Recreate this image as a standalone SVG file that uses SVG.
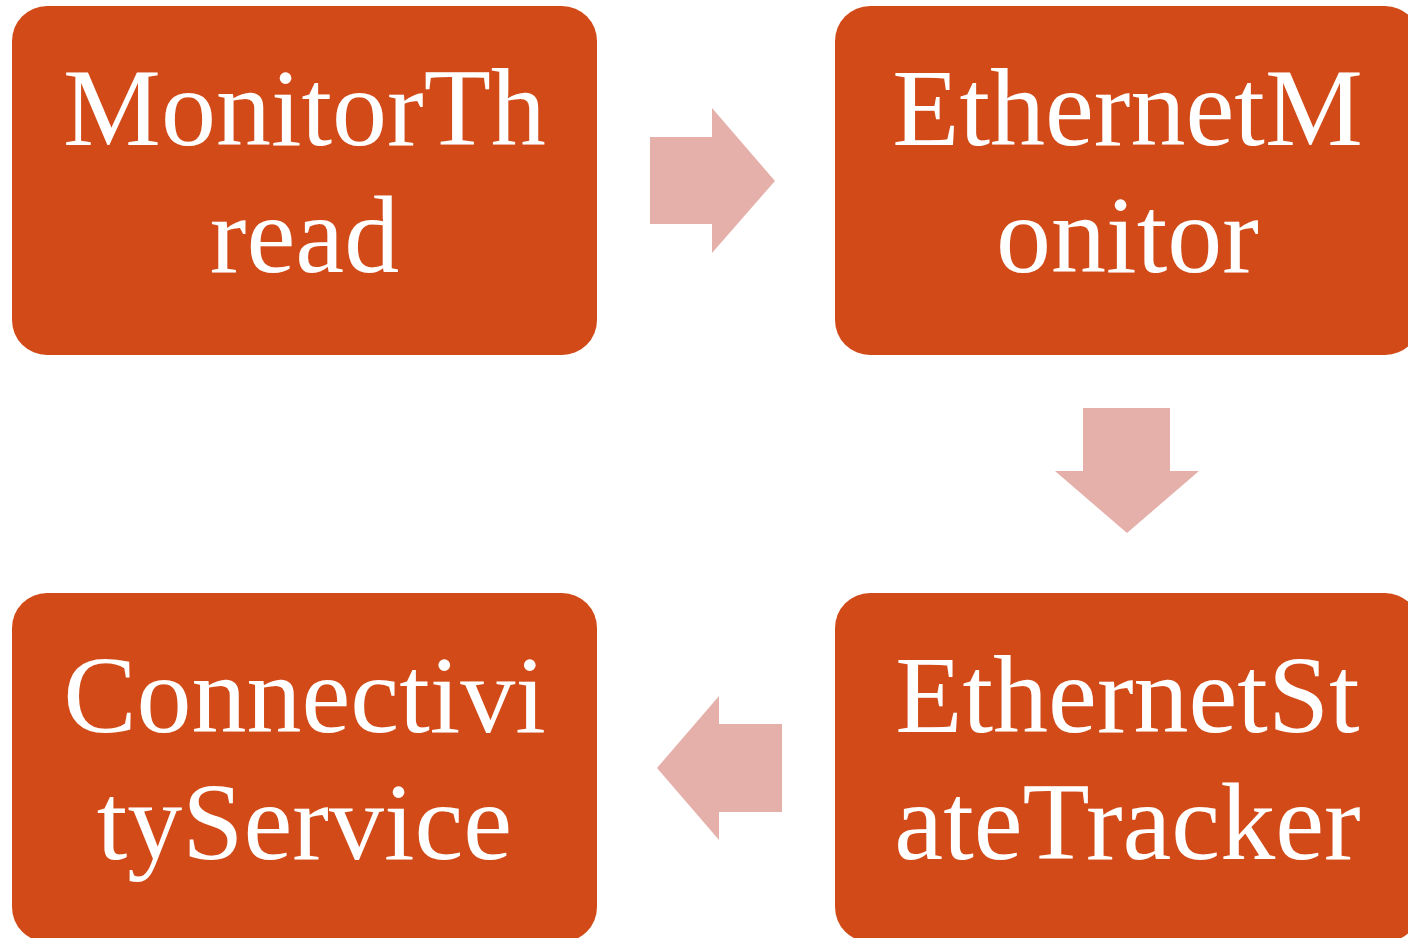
<svg xmlns="http://www.w3.org/2000/svg" width="1408" height="938" viewBox="0 0 1408 938">
<style>
.box{fill:#D24A18}
.arr{fill:#E5B0AA}
.t{font-family:"Liberation Serif","Times New Roman",serif;font-size:110px;fill:#FFFFFF;text-anchor:middle}
</style>
<rect width="1408" height="938" fill="#FFFFFF"/>
<g id="connectors">
<polygon class="arr" points="650,137 712,137 712,108 775,181 712,253 712,224 650,224"/>
<polygon class="arr" points="1083,408 1170,408 1170,471 1199,471 1127,533 1055,471 1083,471"/>
<polygon class="arr" points="782,724 719,724 719,696 657,768 719,840 719,812 782,812"/>
</g>
<g id="node-monitorthread">
<rect class="box" x="12" y="6" width="585" height="349" rx="35" ry="35"/>
<text class="t" x="304.5" y="145">MonitorTh</text>
<text class="t" x="304.5" y="272">read</text>
</g>
<g id="node-ethernetmonitor">
<rect class="box" x="835" y="6" width="585" height="349" rx="35" ry="35"/>
<text class="t" x="1127.5" y="145">EthernetM</text>
<text class="t" x="1127.5" y="272">onitor</text>
</g>
<g id="node-ethernetstatetracker">
<rect class="box" x="835" y="593" width="585" height="349" rx="35" ry="35"/>
<text class="t" x="1127.5" y="732">EthernetSt</text>
<text class="t" x="1127.5" y="859">ateTracker</text>
</g>
<g id="node-connectivityservice">
<rect class="box" x="12" y="593" width="585" height="349" rx="35" ry="35"/>
<text class="t" x="304.5" y="732">Connectivi</text>
<text class="t" x="304.5" y="859">tyService</text>
</g>
</svg>
